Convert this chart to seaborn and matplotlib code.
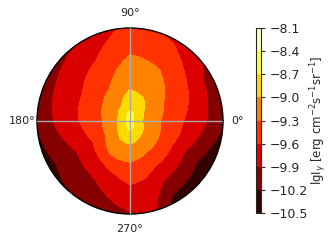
import matplotlib
matplotlib.use("Agg")
import matplotlib.pyplot as plt
import seaborn as sns
import numpy as np

sns.set_style("white")
plt.rcParams['font.family'] = ['DejaVu Sans']

# azimuth of each profile (deg) and radial sample positions (0 = centre, 1 = rim)
azimuth_deg = [0, 30, 60, 90, 120, 150, 180, 210, 240, 270, 285, 300, 330]
radius = [0.0, 0.1, 0.2, 0.3, 0.4, 0.5, 0.6, 0.7, 0.8, 0.9, 1.0]

# lg I_gamma
lgi_0 = [-8.55, -8.95, -9.11, -9.27, -9.40, -9.52, -9.63, -9.74, -9.86, -10.02, -10.17]
lgi_30 = [-8.55, -8.90, -9.06, -9.17, -9.28, -9.38, -9.48, -9.58, -9.75, -9.90, -10.02]
lgi_60 = [-8.55, -8.75, -8.87, -9.02, -9.10, -9.18, -9.27, -9.35, -9.43, -9.55, -9.65]
lgi_90 = [-8.55, -8.68, -8.81, -8.96, -9.06, -9.13, -9.21, -9.29, -9.36, -9.43, -9.50]
lgi_120 = [-8.55, -8.80, -9.03, -9.15, -9.28, -9.37, -9.46, -9.56, -9.66, -9.77, -9.88]
lgi_150 = [-8.55, -8.93, -9.10, -9.25, -9.38, -9.49, -9.61, -9.71, -9.81, -9.90, -10.02]
lgi_180 = [-8.55, -8.95, -9.13, -9.31, -9.43, -9.55, -9.66, -9.77, -9.87, -10.01, -10.18]
lgi_210 = [-8.55, -8.90, -9.11, -9.30, -9.50, -9.68, -9.83, -9.95, -10.05, -10.17, -10.35]
lgi_240 = [-8.55, -8.80, -8.98, -9.12, -9.27, -9.52, -9.71, -9.87, -9.96, -10.04, -10.12]
lgi_270 = [-8.55, -8.70, -8.91, -9.09, -9.24, -9.38, -9.50, -9.62, -9.72, -9.83, -9.92]
lgi_285 = [-8.55, -8.72, -8.95, -9.14, -9.29, -9.43, -9.56, -9.67, -9.76, -9.81, -9.86]
lgi_300 = [-8.55, -8.76, -9.00, -9.17, -9.34, -9.51, -9.68, -9.85, -10.00, -10.18, -10.35]
lgi_330 = [-8.55, -8.88, -9.07, -9.21, -9.38, -9.56, -9.75, -9.95, -10.12, -10.30, -10.45]

levels = [-10.5, -10.2, -9.9, -9.6, -9.3, -9.0, -8.7, -8.4, -8.1]

profiles = [lgi_0, lgi_30, lgi_60, lgi_90, lgi_120, lgi_150, lgi_180,
            lgi_210, lgi_240, lgi_270, lgi_285, lgi_300, lgi_330]

# close the circle (360 deg == 0 deg)
theta = np.deg2rad(azimuth_deg + [360])
Z = np.array(profiles + [lgi_0]).T
T, R = np.meshgrid(theta, radius)

fig = plt.figure(figsize=(3.32, 2.44), dpi=100)
ax = fig.add_axes([37 / 332, 30 / 244, 186 / 332, 186 / 244], projection='polar')

cf = ax.contourf(T, R, Z, levels=levels, cmap='hot')
# let the polar transform bend the contour edges into arcs
for p in cf.get_paths():
    p._interpolation_steps = 60

ax.set_ylim(0, 1)
ax.set_yticks([])
ax.set_thetagrids([0, 90, 180, 270], labels=['0°', '90°', '180°', '270°'], fontsize=8)
ax.set_axisbelow(False)
ax.grid(True, color='#aaaaaa', linewidth=1)
ax.tick_params(axis='x', pad=0)
for sp in ax.spines.values():
    sp.set_linewidth(1)
    sp.set_color('black')

cax = fig.add_axes([256 / 332, 31 / 244, 5 / 332, 185 / 244])
cb = fig.colorbar(cf, cax=cax, ticks=levels)
cb.ax.tick_params(labelsize=9, length=3, width=0.8)
cb.outline.set_linewidth(0.8)
cb.set_label(r'lgI$_\gamma$ [erg cm$^{-2}$s$^{-1}$sr$^{-1}$]', fontsize=8.5, labelpad=0)

fig.savefig('out.png', dpi=100)
